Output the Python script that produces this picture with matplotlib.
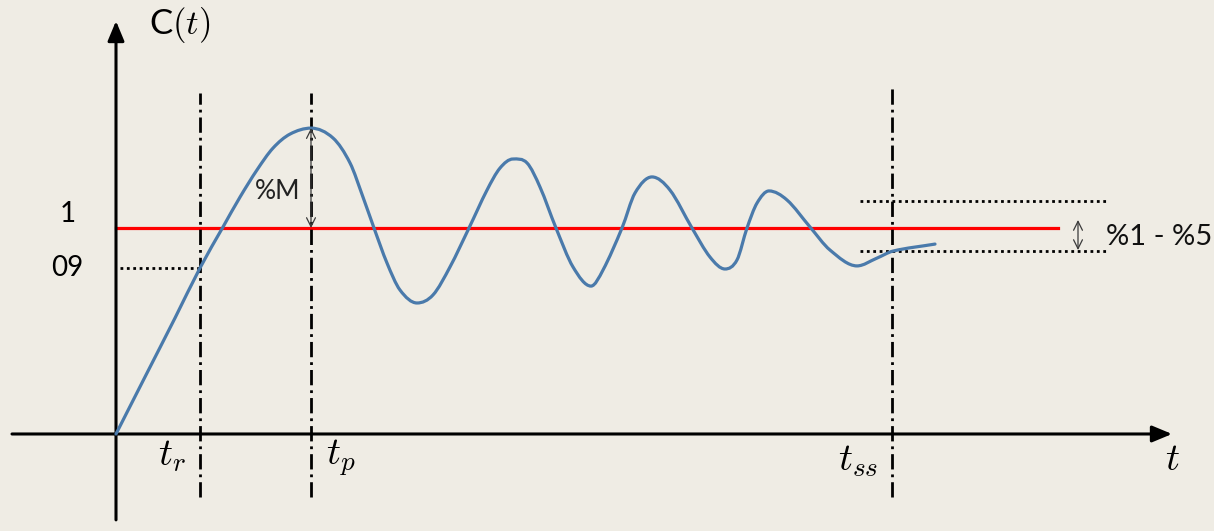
import matplotlib
matplotlib.use("Agg")
import matplotlib.pyplot as plt
from matplotlib.path import Path
from matplotlib.patches import PathPatch

plt.rcParams["mathtext.fontset"] = "cm"
plt.rcParams["font.family"] = ["Lato", "DejaVu Sans"]

BG = "#efece4"
CURVE = "#4a7aab"
RED = "#ff0000"

# step response (t, C(t))
curve_t = [0, 0.29, 0.59, 0.84, 1.07, 1.24, 1.41, 1.57, 1.74, 1.95,
           2.17, 2.34, 2.47, 2.58, 2.71, 2.84, 3.01, 3.17, 3.34, 3.53,
           3.71, 3.84, 3.97, 4.11, 4.24, 4.40, 4.57, 4.75, 4.87, 5.06,
           5.19, 5.36, 5.54, 5.76, 5.94, 6.09, 6.21, 6.31, 6.41, 6.53,
           6.71, 6.94, 7.14, 7.41, 7.61, 7.77, 8.19]
curve_c = [0, 0.277, 0.563, 0.806, 1.005, 1.150, 1.282, 1.388, 1.456, 1.485,
           1.437, 1.316, 1.150, 1.000, 0.830, 0.699, 0.636, 0.675, 0.811, 1.000,
           1.184, 1.291, 1.335, 1.316, 1.199, 1.000, 0.811, 0.718, 0.796, 1.000,
           1.170, 1.248, 1.184, 1.000, 0.859, 0.801, 0.845, 1.000, 1.121, 1.180,
           1.136, 1.005, 0.893, 0.816, 0.854, 0.888, 0.922]

final_value = 1.0
level_09 = 0.806
t_r, t_p, t_ss = 0.84, 1.95, 7.76
peak_value = 1.485
band_hi, band_lo = 1.131, 0.888
time_labels = [r"$t_r$", r"$t_p$", r"$t_{ss}$"]


def smooth_path(xs, ys):
    # cubic hermite through the read points, flat at the turning points
    n = len(xs)
    slopes = []
    for i in range(n):
        a, b = max(i - 1, 0), min(i + 1, n - 1)
        if 0 < i < n - 1 and (ys[i] - ys[a]) * (ys[b] - ys[i]) <= 0:
            slopes.append(0.0)
        else:
            slopes.append((ys[b] - ys[a]) / (xs[b] - xs[a]))
    verts = [(xs[0], ys[0])]
    codes = [Path.MOVETO]
    for i in range(n - 1):
        h = (xs[i + 1] - xs[i]) / 3
        verts += [(xs[i] + h, ys[i] + slopes[i] * h),
                  (xs[i + 1] - h, ys[i + 1] - slopes[i + 1] * h),
                  (xs[i + 1], ys[i + 1])]
        codes += [Path.CURVE4] * 3
    return Path(verts, codes)


fig = plt.figure(figsize=(12.14, 5.31), dpi=100, facecolor=BG)
ax = fig.add_axes([0, 0, 1, 1])
ax.set_facecolor(BG)
ax.set_xlim(-1.16, 10.98)
ax.set_ylim(-0.471, 2.107)
ax.axis("off")

# axes with arrow heads
head = dict(arrowstyle="-|>,head_length=0.6,head_width=0.25", color="black",
            lw=2.2, shrinkA=0, shrinkB=0, mutation_scale=20)
ax.annotate("", xy=(10.56, 0), xytext=(-1.04, 0), arrowprops=head)
ax.annotate("", xy=(0, 2.005), xytext=(0, -0.417), arrowprops=head)

# reference levels
ax.plot([0, 9.42], [final_value, final_value], color=RED, lw=2.3, zorder=2)
ax.plot([0.04, t_r], [level_09, level_09], color="black", lw=2,
        linestyle=(0, (1, 1.3)))
for y in (band_hi, band_lo):
    ax.plot([7.44, 9.93], [y, y], color="black", lw=2, linestyle=(0, (1, 1.3)))

# dash-dot time markers
dashdot = (0, (5.5, 1.8, 1, 1.8))
ax.plot([t_r, t_r], [-0.306, 1.655], color="black", lw=2, linestyle=dashdot)
ax.plot([t_p, t_p], [-0.306, 1.655], color="black", lw=2, linestyle=dashdot)
ax.plot([t_ss, t_ss], [-0.306, 1.68], color="black", lw=2, linestyle=dashdot)

ax.add_patch(PathPatch(smooth_path(curve_t, curve_c), facecolor="none",
                       edgecolor=CURVE, lw=2.3, zorder=3, capstyle="round"))

# overshoot and tolerance arrows
thin = dict(arrowstyle="<->", color="#3a3a3a", lw=0.9, shrinkA=0, shrinkB=0,
            mutation_scale=16)
ax.annotate("", xy=(t_p, peak_value), xytext=(t_p, final_value), arrowprops=thin)
ax.annotate("", xy=(9.62, 1.039), xytext=(9.62, 0.893), arrowprops=thin)

ax.text(1.62, 1.175, "%M", fontsize=19, ha="center", va="center", color="#222222")
ax.text(9.90, 0.956, "%1 - %5", fontsize=21, ha="left", va="center", color="#111111")
ax.text(-0.48, 1.068, "1", fontsize=20, ha="center", va="center")
ax.text(-0.49, level_09, "09", fontsize=20, ha="center", va="center")
ax.text(0.64, 1.985, r"C$(t)$", fontsize=25, ha="center", va="center")

label_pos = [(0.56, -0.105), (2.25, -0.115), (7.42, -0.13)]
for lab, (x, y) in zip(time_labels, label_pos):
    ax.text(x, y, lab, fontsize=28, ha="center", va="center")
ax.text(10.56, -0.12, r"$t$", fontsize=28, ha="center", va="center")

fig.savefig("out.png", dpi=100, facecolor=BG)
